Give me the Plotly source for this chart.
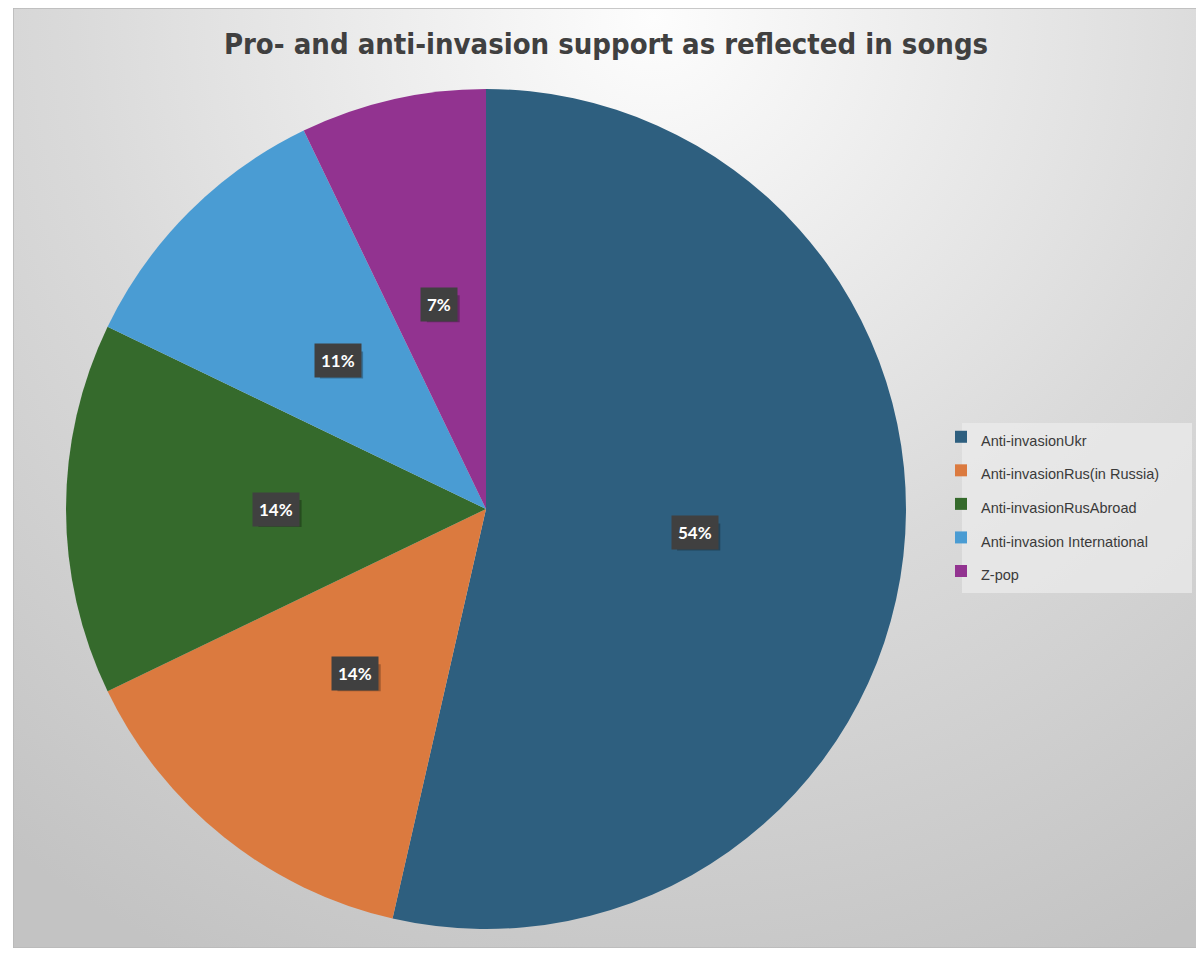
import math, base64
import plotly.graph_objects as go

categories = ["Anti-invasion Ukr", "Anti-invasion Rus (in Russia)", "Anti-invasion Rus Abroad",
              "Anti-invasion International", "Z-pop"]
legend_labels = ["Anti-invasionUkr", "Anti-invasionRus(in Russia)", "Anti-invasionRusAbroad",
                 "Anti-invasion International", "Z-pop"]
song_counts = [30, 8, 8, 6, 4]
colors = ["#2e5f7f", "#db7a3f", "#356a2c", "#4a9cd3", "#923390"]

# page body has an 8px margin; work in reference pixels and shift
OFF = 8
W, H = 1204 - OFF, 956 - OFF


def fx(x):
    return (x - OFF) / W


def fy(y):
    return 1 - (y - OFF) / H


cx, cy, R = 486, 509, 420

svg = '''<svg xmlns="http://www.w3.org/2000/svg" width="1191" height="940" viewBox="0 0 1191 940" preserveAspectRatio="none">
<defs><radialGradient id="g" gradientUnits="userSpaceOnUse" cx="640" cy="10" r="1050">
<stop offset="0" stop-color="#fdfdfd"/><stop offset="0.55" stop-color="#dadada"/><stop offset="1" stop-color="#c3c3c3"/>
</radialGradient></defs>
<rect x="0" y="0" width="1191" height="940" fill="url(#g)" stroke="#b8b8b8" stroke-width="1.5"/>
</svg>'''
src = "data:image/svg+xml;base64," + base64.b64encode(svg.encode()).decode()

fig = go.Figure()
fig.add_trace(go.Pie(
    labels=[f"<span style='font-size:14.5px'>{l}</span>" for l in legend_labels],
    values=song_counts,
    sort=False, direction="clockwise", rotation=0,
    marker=dict(colors=colors, line=dict(width=0)),
    textinfo="none", hoverinfo="label+percent",
    domain=dict(x=[fx(cx - R), fx(cx + R)], y=[fy(cy + R), fy(cy - R)]),
))

total = sum(song_counts)
start = 0.0
anns = []
shapes = [dict(type="rect", xref="paper", yref="paper", x0=fx(962), x1=fx(1192), y0=fy(593), y1=fy(423),
               fillcolor="rgba(236,236,236,0.7)", line=dict(width=0), layer="below")]
for v in song_counts:
    span = v / total * 360
    ang = math.radians(start + min(span / 2, 97))
    start += span
    px = cx + 0.5 * R * math.sin(ang)
    py = cy - 0.5 * R * math.cos(ang)
    txt = f"{round(v / total * 100)}%"
    half_w = 6 + 5.2 * len(txt)
    shapes.append(dict(type="rect", xref="paper", yref="paper", xsizemode="pixel", ysizemode="pixel",
                       xanchor=fx(px), yanchor=fy(py), x0=-half_w + 4, x1=half_w + 4, y0=-18, y1=9,
                       fillcolor="rgba(0,0,0,0.28)", line=dict(width=0), layer="above"))
    anns.append(dict(xref="paper", yref="paper", x=fx(px), y=fy(py), showarrow=False,
                     xanchor="center", yanchor="middle", borderpad=6,
                     text=f"<b>{txt}</b>", font=dict(family="Lato", size=17, color="white"),
                     bgcolor="#404040"))

fig.update_layout(
    width=W, height=H,
    margin=dict(l=0, r=0, t=0, b=0),
    paper_bgcolor="white",
    images=[dict(source=src, xref="paper", yref="paper", x=fx(13), y=fy(8),
                 sizex=1191 / W, sizey=940 / H, xanchor="left", yanchor="top",
                 sizing="stretch", layer="below")],
    shapes=shapes,
    title=dict(text="<b>Pro- and anti-invasion support as reflected in songs</b>",
               font=dict(family="DejaVu Sans Condensed", size=29, color="#404040"),
               x=fx(606), xanchor="center", y=fy(44), yanchor="middle"),
    legend=dict(x=fx(941), y=fy(415), xanchor="left", yanchor="top",
                bgcolor="rgba(0,0,0,0)", font=dict(family="Liberation Sans", size=23.5, color="#3a3a3a"),
                borderwidth=0),
    annotations=anns,
    showlegend=True,
)
fig.write_html("out.html")
